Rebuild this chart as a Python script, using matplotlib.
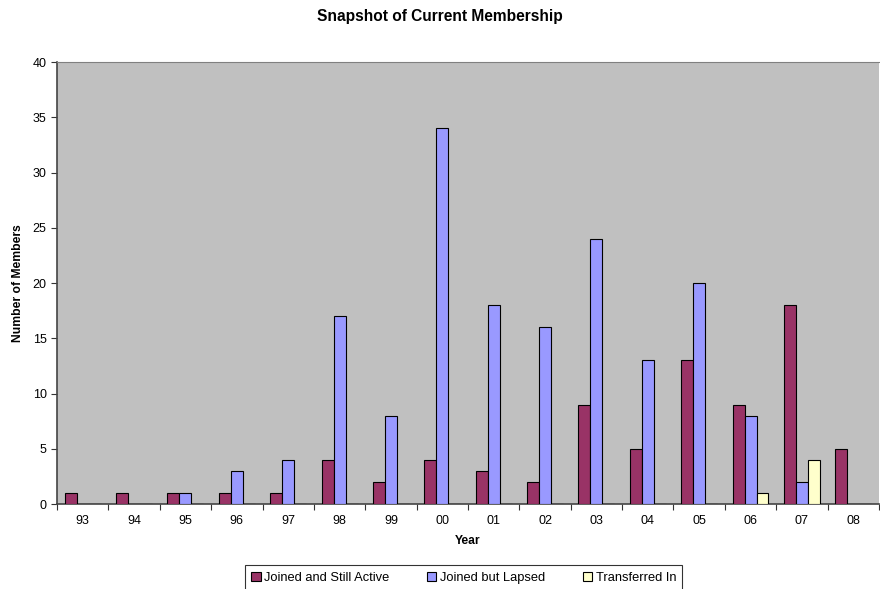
import numpy as np
import matplotlib
matplotlib.use("Agg")
import matplotlib.pyplot as plt

years = ["93", "94", "95", "96", "97", "98", "99", "00", "01", "02", "03", "04", "05", "06", "07", "08"]
active = [1, 1, 1, 1, 1, 4, 2, 4, 3, 2, 9, 5, 13, 9, 18, 5]
lapsed = [0, 0, 1, 3, 4, 17, 8, 34, 18, 16, 24, 13, 20, 8, 2, 0]
transferred = [0, 0, 0, 0, 0, 0, 0, 0, 0, 0, 0, 0, 0, 1, 4, 0]

plt.rcParams["font.family"] = ["Liberation Sans", "DejaVu Sans"]

fig = plt.figure(figsize=(8.8, 5.89), dpi=100)
ax = fig.add_axes([0.0648, 0.1443, 0.934, 0.7504])
ax.set_facecolor("#C0C0C0")

x = np.arange(len(years))
w = 0.233
series = [(active, "#993366", "Joined and Still Active"),
          (lapsed, "#9999FF", "Joined but Lapsed"),
          (transferred, "#FFFFCC", "Transferred In")]
for i, (vals, col, lab) in enumerate(series):
    ax.bar(x + (i - 1) * w, vals, w, color=col, edgecolor="black", linewidth=0.8, label=lab, zorder=3)

ax.set_xlim(-0.5, len(years) - 0.5)
ax.set_ylim(0, 40)
ax.set_yticks(range(0, 41, 5))
ax.set_xticks(x)
ax.set_xticklabels(years)
ax.set_xticks(np.arange(-0.5, len(years), 1), minor=True)
ax.tick_params(axis="x", which="major", length=0, pad=8, labelsize=9)
ax.tick_params(axis="x", which="minor", length=4, direction="out", width=0.8, color="#333333")
ax.tick_params(axis="y", length=4, direction="out", width=0.8, labelsize=9, color="#333333")

for s in ["left", "bottom"]:
    ax.spines[s].set_color("#444444")
    ax.spines[s].set_linewidth(1.2)
ax.spines["top"].set_color("#808080")
ax.spines["right"].set_visible(False)

ax.set_xlabel("Year", fontsize=8.7, fontweight="bold", labelpad=6)
ax.set_ylabel("Number of Members", fontsize=8.7, fontweight="bold", labelpad=6)
fig.suptitle("Snapshot of Current Membership", fontsize=11.2, fontweight="bold", y=0.985)

leg = fig.legend(loc="upper center", bbox_to_anchor=(0.527, 0.051), ncol=3, fontsize=9.3,
                 frameon=True, fancybox=False, edgecolor="black", handlelength=0.7,
                 handleheight=0.7, handletextpad=0.3, columnspacing=2.9, borderpad=0.5)
leg.get_frame().set_linewidth(0.8)

fig.savefig("out.png", dpi=100)
